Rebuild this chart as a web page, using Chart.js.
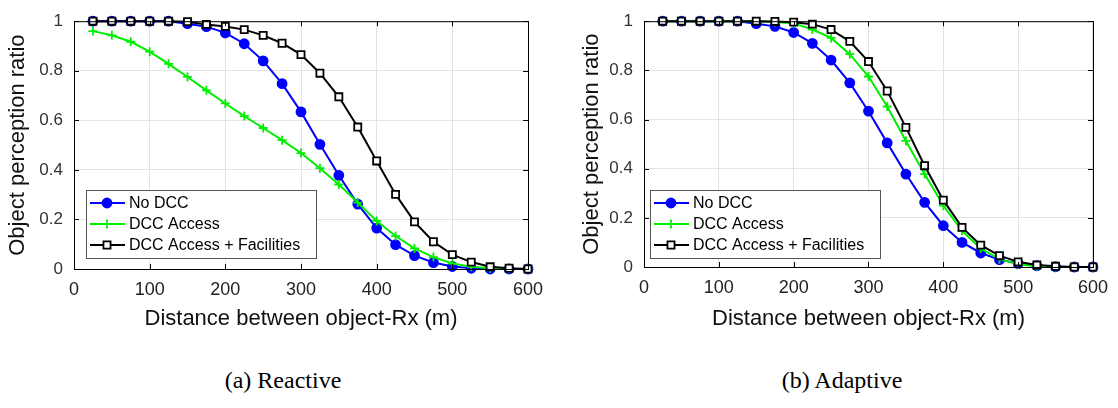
<!DOCTYPE html>
<html lang="en">
<head>
  <meta charset="UTF-8">
  <title>Object perception ratio vs distance</title>
  <script src="https://cdn.jsdelivr.net/npm/chart.js"></script>
  <style>
    body { margin: 0; background: #fff; width: 1118px; height: 408px; position: relative; overflow: hidden; }
    .panel { position: absolute; top: 0; width: 559px; height: 345px; }
    .caption { position: absolute; top: 367px; width: 300px; text-align: center;
      font-family: "Liberation Serif", "Times New Roman", serif; font-size: 24px; color: #000; }
  </style>
</head>
<body>

<div class="panel" style="left:0"><canvas id="reactive" width="559" height="345"></canvas></div>
<div class="panel" style="left:559px"><canvas id="adaptive" width="559" height="345"></canvas></div>
<div class="caption" style="left:133px">(a) Reactive</div>
<div class="caption" style="left:692px">(b) Adaptive</div>

<script>
  // distances (m)
  const distances = [25, 50, 75, 100, 125, 150, 175, 200, 225, 250, 275, 300,
                     325, 350, 375, 400, 425, 450, 475, 500, 525, 550, 575, 600];
  const seriesNames = ['No DCC', 'DCC Access', 'DCC Access + Facilities'];

  // (a) Reactive
  const reactiveNoDcc = [1, 1, 1, 1, 1, 0.99, 0.978, 0.953, 0.909, 0.84, 0.748, 0.634,
                         0.503, 0.378, 0.262, 0.165, 0.098, 0.054, 0.026, 0.01, 0.003, 0, 0, 0];
  const reactiveAccess = [0.96, 0.943, 0.917, 0.877, 0.828, 0.775, 0.721, 0.668, 0.617, 0.569, 0.52, 0.468,
                          0.407, 0.341, 0.268, 0.194, 0.133, 0.083, 0.048, 0.022, 0.009, 0.003, 0, 0];
  const reactiveFacilities = [1, 1, 1, 1, 1, 0.998, 0.987, 0.979, 0.966, 0.943, 0.911, 0.865,
                              0.79, 0.695, 0.573, 0.436, 0.301, 0.19, 0.11, 0.058, 0.028, 0.009, 0.003, 0];

  // (b) Adaptive
  const adaptiveNoDcc = [1, 1, 1, 1, 1, 0.99, 0.979, 0.954, 0.91, 0.842, 0.749, 0.634,
                         0.505, 0.378, 0.263, 0.168, 0.1, 0.057, 0.03, 0.014, 0.005, 0.001, 0, 0];
  const adaptiveAccess = [1, 1, 1, 1, 1, 0.999, 0.997, 0.991, 0.966, 0.932, 0.866, 0.775,
                          0.653, 0.513, 0.378, 0.25, 0.147, 0.075, 0.032, 0.011, 0.003, 0, 0, 0];
  const adaptiveFacilities = [1, 1, 1, 1, 1, 1, 0.999, 0.996, 0.988, 0.966, 0.918, 0.836,
                              0.716, 0.568, 0.412, 0.272, 0.161, 0.089, 0.046, 0.021, 0.008, 0.003, 0, 0];

  const xTicks = [0, 100, 200, 300, 400, 500, 600];
  const yTicks = [0, 0.2, 0.4, 0.6, 0.8, 1];

  const styles = [
    { color: '#0000ff', pointStyle: 'circle', radius: 4.5, fill: '#0000ff', order: 2 },
    { color: '#00ee00', pointStyle: 'cross', radius: 4.5, fill: '#00ee00', order: 1 },
    { color: '#000000', pointStyle: 'rect', radius: 5, fill: '#ffffff', order: 0 }
  ];

  function makeDatasets(list) {
    return list.map((vals, i) => ({
      label: seriesNames[i],
      data: vals.map((v, j) => ({ x: distances[j], y: v })),
      borderColor: styles[i].color,
      backgroundColor: styles[i].fill,
      borderWidth: 2,
      pointStyle: styles[i].pointStyle,
      pointRadius: styles[i].radius,
      pointBorderWidth: 1.8,
      pointBorderColor: styles[i].color,
      pointBackgroundColor: styles[i].fill,
      order: styles[i].order,
      clip: false,
      tension: 0
    }));
  }

  // box round the plot, inward ticks, and the legend in the lower left
  const framePlugin = {
    id: 'frame',
    afterDatasetsDraw(chart, args, opts) {
      const { ctx, chartArea: a, scales } = chart;
      ctx.save();
      ctx.strokeStyle = '#000';
      ctx.lineWidth = 1;
      ctx.strokeRect(a.left + 0.5, a.top + 0.5, a.right - a.left, a.bottom - a.top);
      ctx.beginPath();
      xTicks.forEach(t => {
        const x = Math.round(scales.x.getPixelForValue(t)) + 0.5;
        ctx.moveTo(x, a.bottom); ctx.lineTo(x, a.bottom - 5);
        ctx.moveTo(x, a.top); ctx.lineTo(x, a.top + 5);
      });
      yTicks.forEach(t => {
        const y = Math.round(scales.y.getPixelForValue(t)) + 0.5;
        ctx.moveTo(a.left, y); ctx.lineTo(a.left + 5, y);
        ctx.moveTo(a.right, y); ctx.lineTo(a.right - 5, y);
      });
      ctx.stroke();

      // legend
      const bx = a.left + opts.dx, bw = 230, bh = 68;
      const by = a.bottom - opts.dy - bh;
      ctx.fillStyle = '#fff';
      ctx.fillRect(bx, by, bw, bh);
      ctx.strokeStyle = '#555';
      ctx.strokeRect(bx + 0.5, by + 0.5, bw, bh);
      ctx.font = '16px "Liberation Sans", Arial, sans-serif';
      ctx.textBaseline = 'middle';
      chart.data.datasets.forEach((ds, i) => {
        const y = by + 13 + i * 21;
        ctx.strokeStyle = ds.borderColor;
        ctx.lineWidth = 2;
        ctx.beginPath();
        ctx.moveTo(bx + 4, y); ctx.lineTo(bx + 39, y);
        ctx.stroke();
        ctx.lineWidth = 1.8;
        ctx.fillStyle = ds.pointBackgroundColor;
        Chart.helpers.drawPoint(ctx, { pointStyle: ds.pointStyle, radius: ds.pointRadius, rotation: 0, borderWidth: 1.8 }, bx + 21, y);
        ctx.fillStyle = '#000';
        ctx.fillText(ds.label, bx + 43, y + 1);
      });
      ctx.restore();
    }
  };

  function makeChart(id, datasets, pad, plotBottom, yWidth, legendPos) {
    const font = '"Liberation Sans", Arial, sans-serif';
    return new Chart(document.getElementById(id), {
      type: 'line',
      data: { datasets: datasets },
      options: {
        responsive: false,
        animation: false,
        layout: { padding: pad },
        plugins: {
          legend: { display: false },
          tooltip: { enabled: false },
          frame: legendPos
        },
        scales: {
          x: {
            type: 'linear', min: 0, max: 600,
            afterBuildTicks: s => { s.ticks = xTicks.map(v => ({ value: v })); },
            afterFit: s => { s.height = 345 - plotBottom; },
            grid: { color: '#e3e3e3', drawTicks: false },
            border: { display: false },
            ticks: { color: '#222', font: { family: font, size: 18 }, padding: 10, maxRotation: 0 },
            title: { display: true, text: 'Distance between object-Rx (m)', color: '#111',
                     font: { family: font, size: 22 }, padding: { top: 0, bottom: 13 } }
          },
          y: {
            min: 0, max: 1,
            afterBuildTicks: s => { s.ticks = yTicks.map(v => ({ value: v })); },
            afterFit: s => { s.width = yWidth; },
            grid: { color: '#e3e3e3', drawTicks: false },
            border: { display: false },
            ticks: { color: '#333', font: { family: font, size: 17 }, padding: 11,
                     callback: v => String(Math.round(v * 10) / 10) },
            title: { display: true, text: 'Object perception ratio', color: '#111',
                     font: { family: font, size: 22 }, padding: { top: 5, bottom: 0 } }
          }
        }
      },
      plugins: [framePlugin]
    });
  }

  makeChart('reactive', makeDatasets([reactiveNoDcc, reactiveAccess, reactiveFacilities]),
            { left: 0, right: 31, top: 17, bottom: 0 }, 269, 74, { dx: 12, dy: 11 });
  makeChart('adaptive', makeDatasets([adaptiveNoDcc, adaptiveAccess, adaptiveFacilities]),
            { left: 15, right: 23, top: 13, bottom: 0 }, 267, 70, { dx: 6, dy: 9 });
</script>

</body>
</html>
